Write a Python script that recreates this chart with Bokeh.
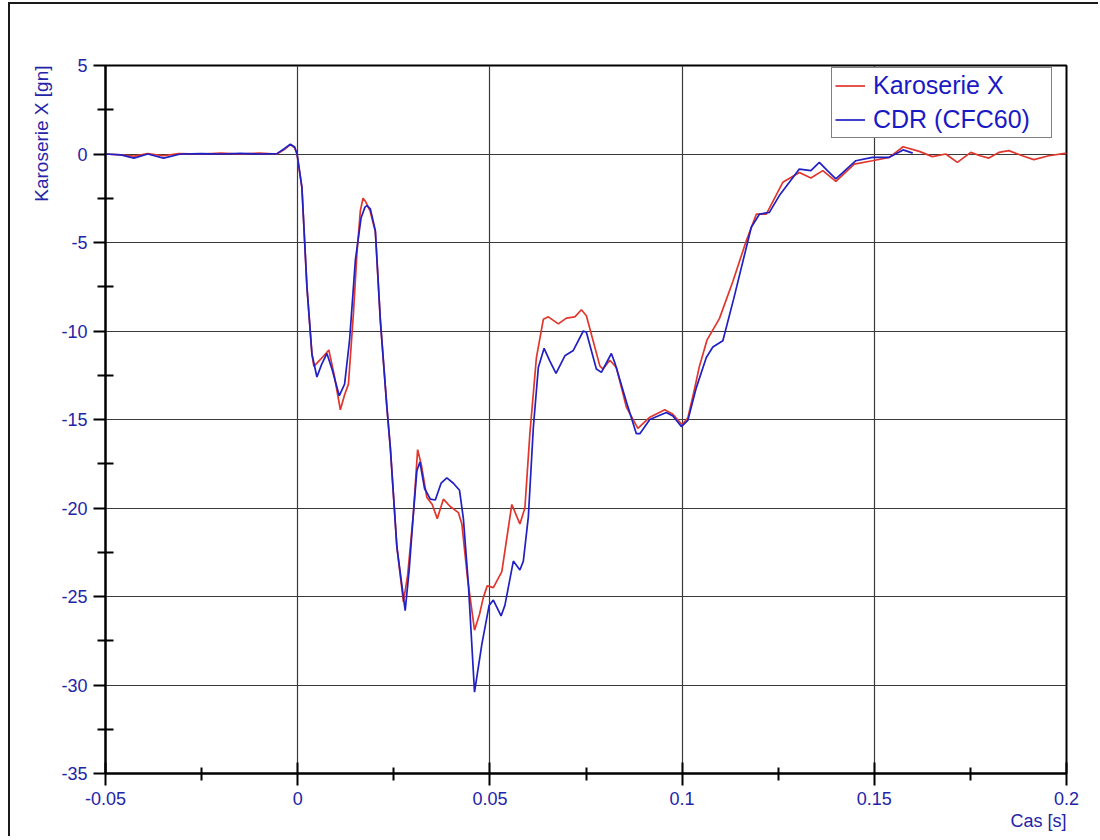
from bokeh.plotting import figure
from bokeh.models import Range1d, FixedTicker, Legend, LegendItem, Title
from bokeh.embed import file_html
from bokeh.resources import INLINE

# ---------------- data (time in s, acceleration in g) ----------------
t_karoserie = [-0.05, -0.046, -0.0425, -0.039, -0.035, -0.031, -0.025, -0.02, -0.015, -0.01,
               -0.0054, -0.0035, -0.0019, -0.0008, -0.0002, 0.0011, 0.0024, 0.0037, 0.0042, 0.0055,
               0.0068, 0.0081, 0.0095, 0.0111, 0.0122, 0.0132, 0.0145, 0.0154, 0.0163, 0.0170,
               0.0177, 0.0188, 0.0202, 0.0215, 0.0232, 0.0241, 0.0258, 0.0275, 0.0286, 0.0301,
               0.0312, 0.0322, 0.0336, 0.0350, 0.0363, 0.0379, 0.0396, 0.0418, 0.0427, 0.0442,
               0.0460, 0.0473, 0.0483, 0.0493, 0.0509, 0.0531, 0.0557, 0.0578, 0.0591, 0.0604,
               0.0621, 0.0639, 0.0652, 0.0678, 0.0699, 0.0721, 0.0738, 0.0751, 0.0786, 0.0794,
               0.0812, 0.0829, 0.0855, 0.0885, 0.0916, 0.0955, 0.0976, 0.1000, 0.1015, 0.1030,
               0.1045, 0.1065, 0.1097, 0.1132, 0.1167, 0.1193, 0.1219, 0.1262, 0.1305, 0.1335,
               0.1366, 0.1400, 0.1448, 0.1495, 0.1539, 0.1575, 0.1617, 0.1651, 0.1686, 0.1716,
               0.1751, 0.1775, 0.1798, 0.1824, 0.1850, 0.1885, 0.1915, 0.1954, 0.2000]
v_karoserie = [0.0, -0.05, -0.12, 0.03, -0.1, 0.02, 0.0, 0.05, 0.0, 0.05,
               0.0, 0.25, 0.53, 0.35, 0.0, -1.9, -7.5, -11.3, -12.0, -11.7,
               -11.4, -11.07, -12.5, -14.45, -13.6, -13.0, -9.0, -5.65, -3.2, -2.5,
               -2.7, -3.2, -4.4, -9.4, -14.3, -16.6, -22.2, -25.3, -23.8, -20.3,
               -16.7, -17.6, -19.4, -19.8, -20.6, -19.5, -19.9, -20.26, -20.9, -24.0,
               -26.9, -26.0, -25.05, -24.4, -24.5, -23.6, -19.8, -20.9, -20.0, -15.8,
               -11.5, -9.34, -9.2, -9.6, -9.27, -9.2, -8.8, -9.14, -11.97, -12.15,
               -11.65, -12.06, -14.3, -15.5, -14.87, -14.45, -14.7, -15.3, -14.9, -13.5,
               -12.0, -10.5, -9.3, -7.2, -4.9, -3.4, -3.4, -1.6, -1.04, -1.36,
               -0.94, -1.55, -0.57, -0.38, -0.19, 0.41, 0.15, -0.15, 0.0, -0.47,
               0.09, -0.1, -0.23, 0.09, 0.19, -0.1, -0.32, -0.1, 0.05]

t_cdr = [-0.05, -0.046, -0.0426, -0.039, -0.0349, -0.0305, -0.025, -0.02, -0.015, -0.01,
         -0.0054, -0.0035, -0.0019, -0.0008, -0.00015, 0.0011, 0.0024, 0.0037, 0.0050, 0.0062,
         0.0076, 0.0090, 0.0108, 0.0122, 0.0135, 0.0150, 0.0165, 0.0175, 0.0180, 0.0189,
         0.0202, 0.0215, 0.0232, 0.0241, 0.0258, 0.02796, 0.0290, 0.0301, 0.0310, 0.0318,
         0.0330, 0.0345, 0.0358, 0.0373, 0.0388, 0.0405, 0.0421, 0.0431, 0.0444, 0.0460,
         0.0479, 0.0498, 0.0509, 0.0529, 0.0539, 0.0561, 0.0578, 0.0587, 0.0600, 0.0613,
         0.0626, 0.0641, 0.0656, 0.0672, 0.0695, 0.0717, 0.0743, 0.0751, 0.0777, 0.0790,
         0.0816, 0.0825, 0.0855, 0.0881, 0.0890, 0.0916, 0.0959, 0.0976, 0.0998, 0.1015,
         0.1037, 0.1063, 0.1080, 0.1106, 0.1134, 0.1180, 0.1201, 0.1227, 0.1253, 0.1305,
         0.1335, 0.1357, 0.1378, 0.1400, 0.1452, 0.1495, 0.1539, 0.1575, 0.1600]
v_cdr = [0.0, -0.05, -0.23, 0.0, -0.23, 0.0, 0.02, 0.0, 0.03, 0.0,
         0.02, 0.3, 0.56, 0.4, 0.0, -1.9, -7.5, -11.3, -12.6, -11.9,
         -11.27, -12.2, -13.66, -13.0, -10.5, -6.0, -3.6, -3.0, -2.92, -3.1,
         -4.33, -9.4, -14.3, -16.6, -22.2, -25.8, -23.5, -20.3, -17.9, -17.4,
         -18.9, -19.5, -19.55, -18.6, -18.3, -18.6, -19.0, -20.6, -24.3, -30.4,
         -27.7, -25.5, -25.2, -26.1, -25.5, -23.0, -23.5, -23.0, -20.5, -15.45,
         -12.06, -10.98, -11.7, -12.4, -11.4, -11.1, -10.0, -10.07, -12.15, -12.34,
         -11.27, -11.8, -14.0, -15.8, -15.8, -15.0, -14.6, -14.8, -15.4, -15.05,
         -13.2, -11.5, -10.9, -10.55, -8.2, -4.14, -3.4, -3.3, -2.35, -0.85,
         -0.94, -0.47, -0.94, -1.41, -0.38, -0.19, -0.19, 0.23, 0.05]

series_names = ["Karoserie X", "CDR (CFC60)"]
x_ticks = [-0.05, 0.0, 0.05, 0.1, 0.15, 0.2]
x_tick_labels = ["-0.05", "0", "0.05", "0.1", "0.15", "0.2"]
x_minor_ticks = [-0.025, 0.025, 0.075, 0.125, 0.175]
y_ticks = [5, 0, -5, -10, -15, -20, -25, -30, -35]
y_tick_labels = ["5", "0", "-5", "-10", "-15", "-20", "-25", "-30", "-35"]
y_minor_ticks = [2.5, -2.5, -7.5, -12.5, -17.5, -22.5, -27.5, -32.5]
x_title = "Cas [s]"
y_title = "Karoserie X [gn]"

# ---------------- styling ----------------
FONT = "Liberation Sans"
TICK_BLUE = "#2424a8"
LEG_BLUE = "#1a1ac4"
RED = "#e0362c"
BLUE = "#2020c4"

p = figure(width=1090, height=834,
           x_range=Range1d(-0.05, 0.2), y_range=Range1d(-35, 5),
           output_backend="svg", toolbar_location=None,
           min_border_left=95, min_border_right=34, min_border_top=61, min_border_bottom=65)
p.styles = {"margin-left": "8px", "margin-top": "2px",
            "border-left": "2px solid #1a1a1a", "border-top": "2px solid #1a1a1a"}

p.outline_line_color = "black"
p.outline_line_width = 2
p.background_fill_color = "white"
p.border_fill_color = "white"

xt = FixedTicker(ticks=x_ticks, minor_ticks=x_minor_ticks)
yt = FixedTicker(ticks=y_ticks, minor_ticks=y_minor_ticks)

xa = p.xaxis[0]
xa.ticker = xt
xa.major_label_overrides = dict(zip(x_ticks, x_tick_labels))
xa.major_tick_in = 11
xa.major_tick_out = 12
xa.minor_tick_in = 6
xa.minor_tick_out = 7
xa.major_label_standoff = 6

ya = p.yaxis[0]
ya.ticker = yt
ya.major_label_overrides = dict(zip(y_ticks, y_tick_labels))
ya.major_tick_in = 0
ya.major_tick_out = 12
ya.minor_tick_in = 8
ya.minor_tick_out = 8
ya.major_label_standoff = 6

for ax in (xa, ya):
    ax.axis_line_color = "black"
    ax.axis_line_width = 2
    ax.major_tick_line_color = "black"
    ax.major_tick_line_width = 2
    ax.minor_tick_line_color = "black"
    ax.minor_tick_line_width = 2
    ax.major_label_text_font = FONT
    ax.major_label_text_font_size = "18px"
    ax.major_label_text_color = TICK_BLUE

p.xgrid[0].ticker = xt
p.ygrid[0].ticker = yt
for g in (p.xgrid[0], p.ygrid[0]):
    g.grid_line_color = "#3a3a3a"
    g.grid_line_width = 1.2

r_red = p.line(t_karoserie, v_karoserie, line_color=RED, line_width=1.7)
r_blue = p.line(t_cdr, v_cdr, line_color=BLUE, line_width=1.7)

legend = Legend(items=[LegendItem(label=series_names[0], renderers=[r_red]),
                       LegendItem(label=series_names[1], renderers=[r_blue])],
                location=(726, 635), margin=0, padding=3, spacing=5,
                label_height=27, glyph_height=27, glyph_width=30, label_standoff=8,
                label_width=175,
                label_text_font=FONT, label_text_font_size="25px", label_text_color=LEG_BLUE,
                border_line_color="black", border_line_width=1.5,
                background_fill_color="white", background_fill_alpha=1.0)
p.add_layout(legend)

p.add_layout(Title(text=y_title, align="right", standoff=13, offset=0,
                   text_font=FONT, text_font_size="19px", text_font_style="normal",
                   text_color=TICK_BLUE), "left")
p.add_layout(Title(text=x_title, align="right", standoff=2, offset=0,
                   text_font=FONT, text_font_size="18px", text_font_style="normal",
                   text_color=TICK_BLUE), "below")

open("out.html", "w").write(file_html(p, INLINE))
